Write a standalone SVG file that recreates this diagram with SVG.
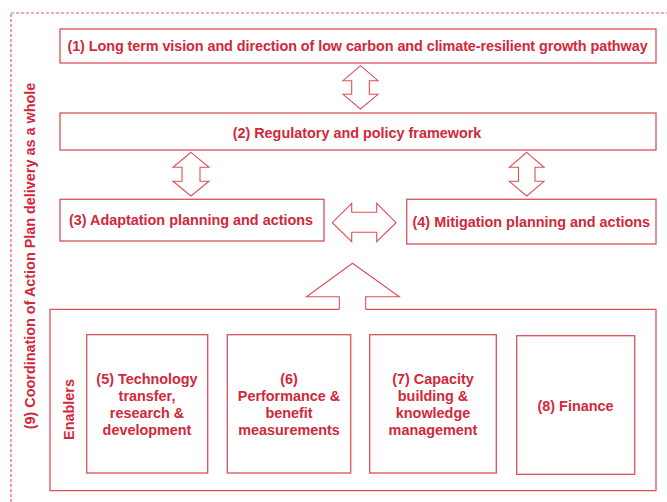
<svg xmlns="http://www.w3.org/2000/svg" width="667" height="502" viewBox="0 0 667 502">
  <style>
    .box { fill: #ffffff; stroke: #dc505b; stroke-width: 1.3; }
    .arrow { fill: #ffffff; stroke: #dc505b; stroke-width: 1.1; stroke-linejoin: miter; }
    .frame { fill: none; stroke: #e0606a; stroke-width: 1.2; stroke-dasharray: 3 2; }
    .lbl { font-family: "Liberation Sans", Arial, sans-serif; font-weight: bold; font-size: 14.4px; fill: #d2283a; text-anchor: middle; }
  </style>
  <rect width="667" height="502" fill="#ffffff"/>

  <!-- (9) outer dashed coordination frame -->
  <g id="coordination">
    <rect class="frame" x="11" y="13" width="662" height="500"/>
    <text class="lbl" transform="translate(35 256) rotate(-90)">(9) Coordination of Action Plan delivery as a whole</text>
  </g>

  <!-- connectors: block arrows -->
  <g id="connectors">
    <!-- (1) <-> (2) -->
    <path class="arrow" d="M360.5 65.7 L378 80.7 H369.3 V94.3 H378 L360.5 109 L343 94.3 H351.7 V80.7 H343 Z"/>
    <!-- (2) <-> (3) -->
    <path class="arrow" d="M191 152.3 L209 167.3 H200 V181.3 H209 L191 196 L173 181.3 H182 V167.3 H173 Z"/>
    <!-- (2) <-> (4) -->
    <path class="arrow" d="M526.7 152.3 L544 167.3 H535 V181.3 H544 L526.7 196 L509.3 181.3 H518.5 V167.3 H509.3 Z"/>
    <!-- (3) <-> (4) -->
    <path class="arrow" d="M332.3 222.7 L351.7 203.3 V212.3 H376.7 V203.3 L396 222.7 L376.7 241.7 V232.3 H351.7 V241.7 Z"/>
    <!-- enablers -> (3)/(4) -->
    <path class="arrow" d="M339.3 309.3 V296.7 H306.5 L352.5 263.3 L399.3 296.7 H365.7 V309.3"/>
  </g>

  <g id="n1">
    <rect class="box" x="60" y="29" width="596" height="34"/>
    <text class="lbl" x="357.5" y="51" letter-spacing="-0.07">(1) Long term vision and direction of low carbon and climate-resilient growth pathway</text>
  </g>
  <g id="n2">
    <rect class="box" x="60" y="113" width="596" height="37"/>
    <text class="lbl" x="357" y="137.5">(2) Regulatory and policy framework</text>
  </g>
  <g id="n3">
    <rect class="box" x="60" y="199.3" width="264" height="41.7"/>
    <text class="lbl" x="191" y="225">(3) Adaptation planning and actions</text>
  </g>
  <g id="n4">
    <rect class="box" x="406.7" y="199.3" width="249.3" height="44.7"/>
    <text class="lbl" x="531.3" y="227">(4) Mitigation planning and actions</text>
  </g>

  <!-- enablers container, open at the top where the arrow shaft joins -->
  <g id="enablers">
    <path class="box" d="M339.3 309.3 H50 V490.7 H656 V309.3 H365.7" style="fill:none"/>
    <text class="lbl" transform="translate(74 409.5) rotate(-90)">Enablers</text>
  </g>

  <g id="n5">
    <rect class="box" x="86.7" y="334.7" width="121" height="138.3"/>
    <text class="lbl" x="147" y="384">(5) Technology</text>
    <text class="lbl" x="147" y="401">transfer,</text>
    <text class="lbl" x="147" y="418">research &amp;</text>
    <text class="lbl" x="147" y="435">development</text>
  </g>
  <g id="n6">
    <rect class="box" x="227.3" y="334.7" width="123.4" height="138.3"/>
    <text class="lbl" x="289" y="384">(6)</text>
    <text class="lbl" x="289" y="401">Performance &amp;</text>
    <text class="lbl" x="289" y="418">benefit</text>
    <text class="lbl" x="289" y="435">measurements</text>
  </g>
  <g id="n7">
    <rect class="box" x="369.7" y="334.7" width="126.6" height="138.3"/>
    <text class="lbl" x="433" y="384">(7) Capacity</text>
    <text class="lbl" x="433" y="401">building &amp;</text>
    <text class="lbl" x="433" y="418">knowledge</text>
    <text class="lbl" x="433" y="435">management</text>
  </g>
  <g id="n8">
    <rect class="box" x="516.7" y="335.7" width="118" height="138.6"/>
    <text class="lbl" x="575.5" y="411">(8) Finance</text>
  </g>
</svg>
